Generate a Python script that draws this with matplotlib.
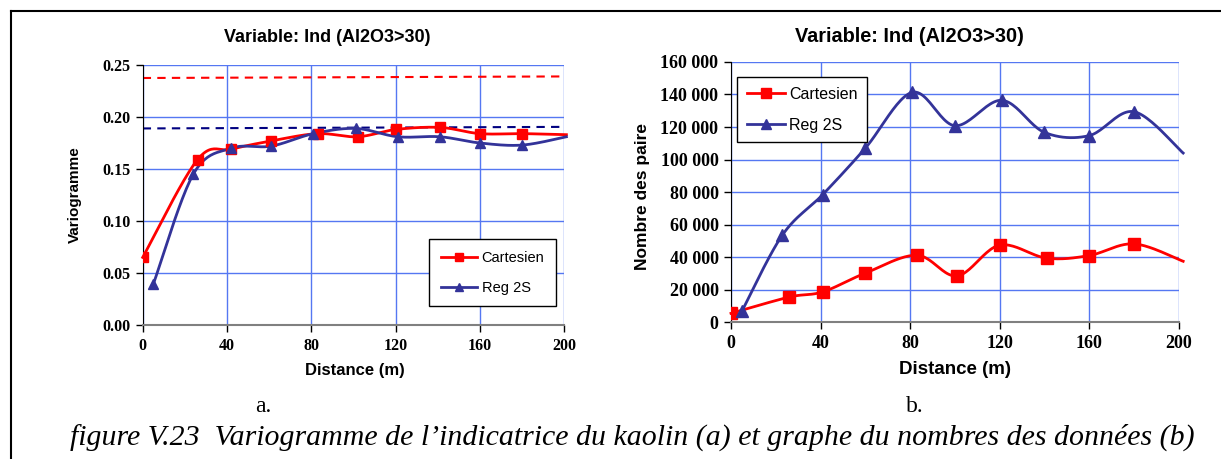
import matplotlib.pyplot as plt
from matplotlib.lines import Line2D
from matplotlib.ticker import FuncFormatter
import numpy as np

# (a) variogramme de l'indicatrice
dist_a_cart = [0, 26, 42, 61, 83, 102, 120, 141, 160, 180, 201]
gam_cart = [0.065, 0.159, 0.169, 0.177, 0.184, 0.181, 0.188, 0.190, 0.184, 0.184, 0.183]
dist_a_reg = [5, 24, 42, 61, 81, 101, 121, 141, 160, 180, 201]
gam_reg = [0.039, 0.145, 0.170, 0.172, 0.184, 0.189, 0.181, 0.181, 0.175, 0.173, 0.181]
sill_x = [0, 200]
sill_cart = [0.2375, 0.239]
sill_reg = [0.189, 0.1905]

# (b) nombre des paires
dist_b_cart = [0, 26, 41, 60, 83, 101, 120, 141, 160, 180, 202]
npair_cart = [5500, 15500, 18700, 30200, 41200, 28500, 47400, 39400, 41000, 48200, 37500]
dist_b_reg = [5, 23, 41, 60, 81, 100, 121, 140, 160, 180, 202]
npair_reg = [7200, 53700, 78500, 107000, 141300, 120800, 136400, 116700, 114700, 129400, 104000]

x_ticks = [0, 40, 80, 120, 160, 200]
RED = '#ff0000'
BLUE = '#333399'
GRID = '#5577f2'
SANS = 'Liberation Sans'
SERIF = 'Liberation Serif'


def smooth(xs, ys, n=24):
    # courbe lissee type Excel (bezier, tangentes de Catmull-Rom)
    p = np.column_stack([xs, ys]).astype(float)
    p = np.vstack([p[0], p, p[-1]])
    t = np.linspace(0, 1, n, endpoint=False)[:, None]
    out = []
    for i in range(1, len(p) - 2):
        p0, p1, p2, p3 = p[i-1], p[i], p[i+1], p[i+2]
        c1 = p1 + (p2 - p0) / 6
        c2 = p2 - (p3 - p1) / 6
        out.append((1-t)**3*p1 + 3*(1-t)**2*t*c1 + 3*(1-t)*t**2*c2 + t**3*p2)
    out.append(p[-2][None])
    arr = np.vstack(out)
    return arr[:, 0], arr[:, 1]


def style_axes(ax, fs_tick):
    ax.set_axisbelow(True)
    ax.grid(True, color=GRID, lw=1)
    for s in ['top', 'right']:
        ax.spines[s].set_visible(False)
    ax.spines['left'].set_color('black')
    ax.spines['bottom'].set_color('#808080')
    ax.spines['bottom'].set_linewidth(1.5)
    ax.tick_params(direction='out', length=5, width=1, pad=4)
    ax.set_xlim(0, 200)
    ax.set_xticks(x_ticks)
    for lab in ax.get_xticklabels() + ax.get_yticklabels():
        lab.set_fontfamily(SERIF)
        lab.set_fontweight('bold')
        lab.set_fontsize(fs_tick)


def draw_series(ax, xs, ys, color, marker, ms):
    sx, sy = smooth(xs, ys)
    ax.plot(sx, sy, color=color, lw=2, clip_on=False, zorder=3)
    ax.plot(xs[:-1], ys[:-1], ls='none', marker=marker, color=color, ms=ms, zorder=4)


W, H = 1221, 459
fig = plt.figure(figsize=(W / 100, H / 100), dpi=100)

# --- graphe a ---
ax1 = fig.add_axes([142.7 / W, 1 - 325 / H, 421.6 / W, 260 / H])
ax1.plot(sill_x, sill_cart, color=RED, lw=1.5, ls=(0, (4, 3)))
ax1.plot(sill_x, sill_reg, color='#000080', lw=1.5, ls=(0, (4, 3)))
draw_series(ax1, dist_a_cart, gam_cart, RED, 's', 7)
draw_series(ax1, dist_a_reg, gam_reg, BLUE, '^', 7)
ax1.set_ylim(0, 0.25)
ax1.set_yticks(np.arange(0, 0.26, 0.05))
ax1.yaxis.set_major_formatter(FuncFormatter(lambda v, _: f"{v:.2f}"))
style_axes(ax1, 11.5)

h1 = [Line2D([], [], color=RED, lw=2, marker='s', ms=6),
      Line2D([], [], color=BLUE, lw=2, marker='^', ms=6)]
fig.legend(h1, ['Cartesien', 'Reg 2S'], loc='upper left',
           bbox_to_anchor=(429 / W, 1 - 239 / H), borderaxespad=0,
           prop={'family': SANS, 'size': 10.5}, fancybox=False, edgecolor='black',
           framealpha=1, handlelength=2.5, handletextpad=0.3, labelspacing=1.1,
           borderpad=0.8)

fig.text(327 / W, 1 - 38 / H, 'Variable: Ind (Al2O3>30)', ha='center', va='center',
         fontfamily=SANS, fontweight='bold', fontsize=13)
fig.text(75 / W, 1 - 195 / H, 'Variogramme', rotation=90, ha='center', va='center',
         fontfamily=SANS, fontweight='bold', fontsize=11)
fig.text(355 / W, 1 - 370 / H, 'Distance (m)', ha='center', va='center',
         fontfamily=SANS, fontweight='bold', fontsize=12)

# --- graphe b ---
ax2 = fig.add_axes([731 / W, 1 - 322.3 / H, 447.7 / W, 260.4 / H])
draw_series(ax2, dist_b_cart, npair_cart, RED, 's', 8)
draw_series(ax2, dist_b_reg, npair_reg, BLUE, '^', 8)
ax2.set_ylim(0, 160000)
ax2.set_yticks(np.arange(0, 160001, 20000))
ax2.yaxis.set_major_formatter(FuncFormatter(lambda v, _: f"{int(v):,}".replace(',', ' ')))
style_axes(ax2, 13)

h2 = [Line2D([], [], color=RED, lw=2, marker='s', ms=7),
      Line2D([], [], color=BLUE, lw=2, marker='^', ms=7)]
fig.legend(h2, ['Cartesien', 'Reg 2S'], loc='upper left',
           bbox_to_anchor=(737 / W, 1 - 77 / H), borderaxespad=0,
           prop={'family': SANS, 'size': 11.5}, fancybox=False, edgecolor='black',
           framealpha=1, handlelength=2.4, handletextpad=0.25, labelspacing=1.0,
           borderpad=0.6)

fig.text(909 / W, 1 - 37 / H, 'Variable: Ind (Al2O3>30)', ha='center', va='center',
         fontfamily=SANS, fontweight='bold', fontsize=14.3)
fig.text(642 / W, 1 - 197 / H, 'Nombre des paire', rotation=90, ha='center', va='center',
         fontfamily=SANS, fontweight='bold', fontsize=12.5)
fig.text(955 / W, 1 - 370 / H, 'Distance (m)', ha='center', va='center',
         fontfamily=SANS, fontweight='bold', fontsize=13.5)

# legendes sous les graphes
fig.text(263 / W, 1 - 406 / H, 'a.', ha='center', va='center', fontfamily=SERIF, fontsize=17)
fig.text(915 / W, 1 - 406 / H, 'b.', ha='center', va='center', fontfamily=SERIF, fontsize=17)
fig.text(632 / W, 1 - 437 / H,
         'figure V.23  Variogramme de l\u2019indicatrice du kaolin (a) et graphe du nombres des donn\u00e9es (b)',
         ha='center', va='center', fontfamily=SERIF, fontstyle='italic', fontsize=21.5)

# cadre
fig.add_artist(Line2D([11 / W, 11 / W], [0, 1 - 11 / H], color='black', lw=1.5))
fig.add_artist(Line2D([11 / W, 1], [1 - 11 / H, 1 - 11 / H], color='black', lw=1.5))

fig.savefig('out.png', dpi=100)
